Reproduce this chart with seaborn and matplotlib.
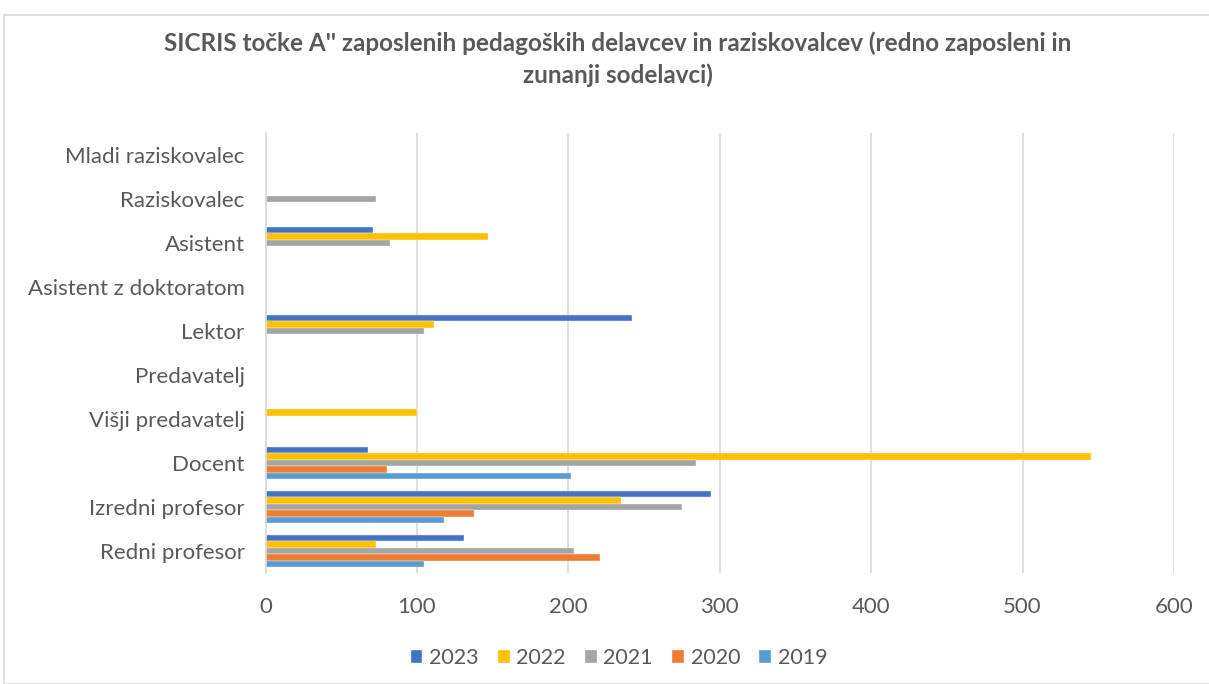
import matplotlib
matplotlib.use("Agg")
import matplotlib.pyplot as plt
import seaborn as sns
import pandas as pd
from matplotlib.patches import Rectangle

categories = ["Mladi raziskovalec", "Raziskovalec", "Asistent", "Asistent z doktoratom",
              "Lektor", "Predavatelj", "Višji predavatelj", "Docent",
              "Izredni profesor", "Redni profesor"]
years = ["2023", "2022", "2021", "2020", "2019"]
v2023 = [0, 0, 71, 0, 242, 0, 0, 68, 294, 131]
v2022 = [0, 0, 147, 0, 111, 0, 100, 545, 235, 73]
v2021 = [0, 73, 82, 0, 105, 0, 0, 284, 275, 204]
v2020 = [0, 0, 0, 0, 0, 0, 0, 80, 138, 221]
v2019 = [0, 0, 0, 0, 0, 0, 0, 202, 118, 105]
colors = ["#4472C4", "#FFC000", "#A5A5A5", "#ED7D31", "#5B9BD5"]
title = "SICRIS točke A'' zaposlenih pedagoških delavcev in raziskovalcev (redno zaposleni in\nzunanji sodelavci)"

series = dict(zip(years, [v2023, v2022, v2021, v2020, v2019]))
rows = []
for y in years:
    for c, v in zip(categories, series[y]):
        rows.append({"Kategorija": c, "Leto": y, "Vrednost": v})
df = pd.DataFrame(rows)

sns.set_theme(style="white")
plt.rcParams["font.family"] = ["Lato", "DejaVu Sans"]

W, H = 1209, 684
fig = plt.figure(figsize=(W / 100, H / 100), dpi=100)

# chart area border
fig.patches.append(Rectangle((4 / W, 0), 1.2, (H - 15) / H, transform=fig.transFigure,
                             fill=False, edgecolor="#D9D9D9", linewidth=1.2))

x0, x1 = 265.5, 1174
ytop, ybot = 133, 573
ax = fig.add_axes([x0 / W, (H - ybot) / H, (x1 - x0) / W, (ybot - ytop) / H])

sns.barplot(data=df, y="Kategorija", x="Vrednost", hue="Leto", order=categories,
            hue_order=years, palette=colors, orient="h", width=0.72,
            saturation=1, ax=ax, edgecolor="#F2F2F2", linewidth=0.3)

ax.set_xlim(0, 600)
ax.set_xticks(range(0, 601, 100))
ax.set_ylim(len(categories) - 0.5, -0.5)
ax.grid(axis="x", color="#D9D9D9", linewidth=1.2)
ax.set_axisbelow(True)
for s in ["top", "right", "bottom"]:
    ax.spines[s].set_visible(False)
ax.spines["left"].set_color("#D9D9D9")
ax.spines["left"].set_linewidth(1.2)
ax.set_xlabel("")
ax.set_ylabel("")
ax.tick_params(axis="both", length=0, colors="#595959", labelsize=16)
ax.tick_params(axis="x", pad=17)
ax.tick_params(axis="y", pad=15)

sns.move_legend(ax, "center", bbox_to_anchor=(619 / W, (H - 658) / H),
                bbox_transform=fig.transFigure, ncol=5, frameon=False, title=None,
                fontsize=15.5, handlelength=0.55, handleheight=0.55, handletextpad=0.3,
                columnspacing=0.9)
for t in ax.get_legend().get_texts():
    t.set_color("#595959")

fig.text(618 / W, (H - 59) / H, title, ha="center", va="center", fontsize=17.5,
         fontweight="bold", color="#595959", linespacing=1.45)

fig.savefig("out.png", dpi=100)
